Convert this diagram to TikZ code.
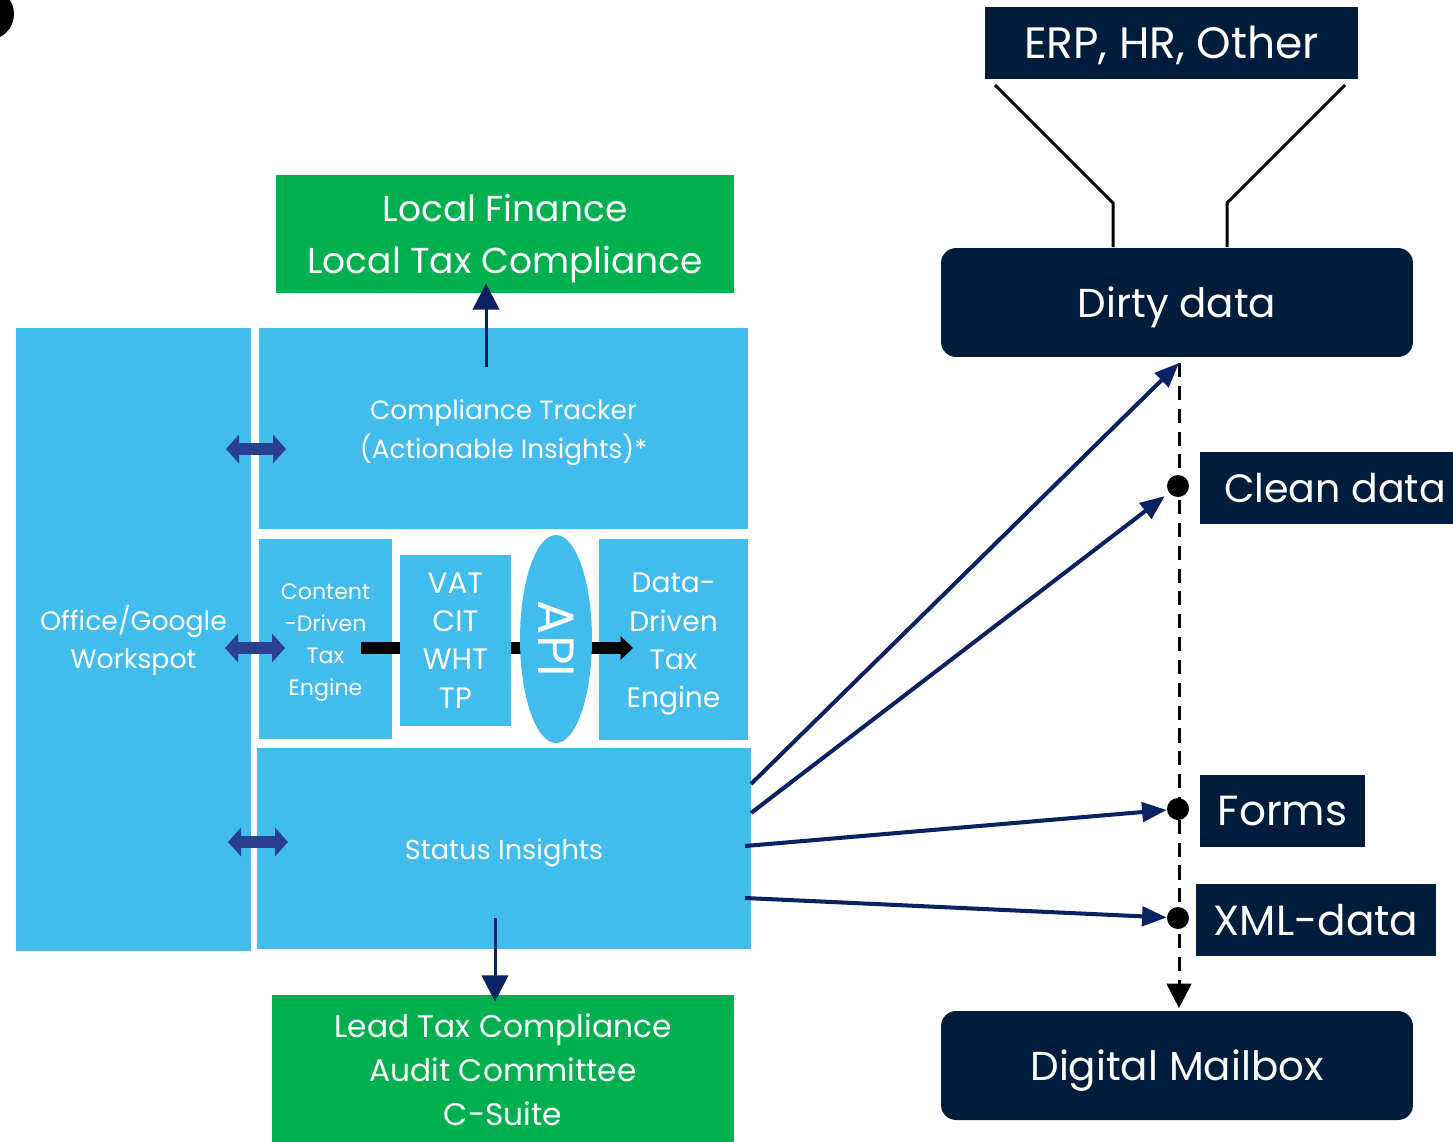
\documentclass[tikz,border=0pt]{standalone}
\usepackage{fontspec}
\setmainfont{Poppins}
\usetikzlibrary{arrows.meta,shapes.geometric}
\definecolor{cblue}{HTML}{41BCEC}
\definecolor{cgreen}{HTML}{00B050}
\definecolor{cnavy}{HTML}{021D3B}
\definecolor{carrow}{HTML}{0A2162}
\definecolor{cdbl}{HTML}{2B3F91}
\tikzset{
  box/.style={draw=none, inner sep=0pt, anchor=center},
  lbl/.style={text=white, align=center, inner sep=0pt},
  bluebox/.style={box, fill=cblue},
  greenbox/.style={box, fill=cgreen},
  navybox/.style={box, fill=cnavy},
  roundbox/.style={box, fill=cnavy, rounded corners=0.3cm},
  dot/.style={circle, fill=black, inner sep=0pt, minimum size=0.44cm},
  navyarrow/.style={draw=carrow, line width=2.3pt, -{Triangle[length=14pt,width=11pt]}},
  vertarrow/.style={draw=carrow, line width=1.7pt, -{Triangle[length=15pt,width=15pt]}},
  dblarrow/.style={draw=cdbl, line width=6.8pt, {Triangle[length=7.4pt,width=16pt]}-{Triangle[length=7.4pt,width=16pt]}},
  funnel/.style={draw=black, line width=1.7pt},
}
\begin{document}
\begin{tikzpicture}[x=0.02cm,y=-0.02cm]
\useasboundingbox (0,0) rectangle (1453,1142);
% corner mark
\fill[black] (-12,14) circle[radius=0.52cm];
% left side boxes
\node[greenbox, minimum width=9.16cm, minimum height=2.36cm,
  label={[lbl, font=\fontsize{20.5}{29.6}\selectfont, yshift=-2.3pt]center:{Local Finance\\Local Tax Compliance}}] (lf) at (505,234) {};
\node[bluebox, minimum width=4.7cm, minimum height=12.46cm,
  label={[lbl, font=\fontsize{15.2}{21.6}\selectfont, yshift=-0.6pt]center:{Office/Google\\Workspot}}] (office) at (133.5,639.5) {};
\node[bluebox, minimum width=9.78cm, minimum height=4.02cm,
  label={[lbl, font=\fontsize{15}{22}\selectfont, yshift=-2.3pt]center:{Compliance Tracker\\(Actionable Insights)*}}] (tracker) at (503.5,428.5) {};
\node[bluebox, minimum width=2.66cm, minimum height=4.0cm,
  label={[lbl, font=\fontsize{12.6}{18.2}\selectfont, yshift=-2.3pt]center:{Content\\-Driven\\Tax\\Engine}}] (content) at (325.5,639) {};
\node[bluebox, minimum width=2.98cm, minimum height=4.02cm,
  label={[lbl, font=\fontsize{16}{21.8}\selectfont, yshift=-2.8pt]center:{Data-\\Driven\\Tax\\Engine}}] (ddte) at (673.5,639.5) {};
\coordinate (bstart) at (361,648);
\coordinate (bend) at (633,648);
\draw[line width=6.8pt, -{Triangle[length=7pt,width=13pt]}] (bstart) -- (bend);
\node[bluebox, minimum width=2.22cm, minimum height=3.42cm,
  label={[lbl, font=\fontsize{16.8}{21.8}\selectfont]center:{VAT\\CIT\\WHT\\TP}}] (vat) at (455.5,640.5) {};
\node[ellipse, fill=cblue, inner sep=0pt, minimum width=1.44cm, minimum height=4.16cm] (api) at (556,639) {};
\node[text=white, rotate=-90, font=\fontsize{29}{29}\selectfont, inner sep=0pt] (apit) at (api.center) {API};
\node[bluebox, minimum width=9.88cm, minimum height=4.02cm,
  label={[lbl, font=\fontsize{15.5}{22}\selectfont, yshift=-2.3pt]center:{Status Insights}}] (status) at (504,848.5) {};
\node[greenbox, minimum width=9.24cm, minimum height=2.94cm,
  label={[lbl, font=\fontsize{17.8}{25}\selectfont, yshift=-0.9pt]center:{Lead Tax Compliance\\Audit Committee\\C-Suite}}] (lead) at (503,1068.5) {};
% vertical arrows
\coordinate (ua) at (486,367);
\draw[vertarrow] (ua) -- ([yshift=0.2cm]ua |- lf.south);
\coordinate (da) at (495,918);
\draw[vertarrow] (da) -- ([yshift=-0.14cm]da |- lead.north);
% double arrows
\coordinate (dl1) at (226,449); \coordinate (dr1) at (286,449);
\coordinate (dl2) at (225,648); \coordinate (dr2) at (285,648);
\coordinate (dl3) at (228,842); \coordinate (dr3) at (288,842);
\draw[dblarrow] (dl1) -- (dr1);
\draw[dblarrow] (dl2) -- (dr2);
\draw[dblarrow] (dl3) -- (dr3);
% right side
\node[navybox, minimum width=7.46cm, minimum height=1.44cm,
  label={[lbl, font=\fontsize{25}{25}\selectfont, yshift=-1.1pt]center:{ERP, HR, Other}}] (erp) at (1171.5,43) {};
\node[roundbox, minimum width=9.44cm, minimum height=2.18cm,
  label={[lbl, font=\fontsize{23}{23}\selectfont, yshift=-2.8pt]center:{Dirty data}}] (dirty) at (1177,302.5) {};
\node[navybox, minimum width=5.4cm, minimum height=1.44cm,
  label={[lbl, font=\fontsize{22.5}{22.5}\selectfont]center:{Clean data}}] (clean) at (1335,488) {};
\node[navybox, minimum width=3.3cm, minimum height=1.44cm,
  label={[lbl, font=\fontsize{24}{24}\selectfont]center:{Forms}}] (forms) at (1282.5,811) {};
\node[navybox, minimum width=4.8cm, minimum height=1.44cm,
  label={[lbl, font=\fontsize{24}{24}\selectfont]center:{XML-data}}] (xml) at (1316,920) {};
\node[roundbox, minimum width=9.44cm, minimum height=2.18cm,
  label={[lbl, font=\fontsize{23}{23}\selectfont, yshift=-2.8pt]center:{Digital Mailbox}}] (mail) at (1177,1065.5) {};
% funnel
\coordinate (fl0) at (995,85); \coordinate (fl1) at (1113,203); \coordinate (fl2) at (1113,247);
\coordinate (fr0) at (1345,85); \coordinate (fr1) at (1227,203); \coordinate (fr2) at (1227,247);
\draw[funnel] (fl0) -- (fl1) -- (fl2);
\draw[funnel] (fr0) -- (fr1) -- (fr2);
% dashed line and dots
\coordinate (dt) at (1179,363);
\draw[black, line width=1.7pt, dash pattern=on 8pt off 5pt, -{Triangle[length=14pt,width=14pt]}] (dt) -- ([yshift=0.05cm]dt |- mail.north);
\node[dot] (d1) at (1178,486) {};
\node[dot] (d2) at (1178,809) {};
\node[dot] (d3) at (1178,918) {};
% navy arrows
\coordinate (s1) at (751,784);
\coordinate (s2) at (751,813);
\coordinate (s3) at (745,846);
\coordinate (s4) at (745,898);
\draw[navyarrow] (s1) -- (dt);
\draw[navyarrow, shorten >=3pt] (s2) -- (d1);
\draw[navyarrow] (s3) -- (d2);
\draw[navyarrow] (s4) -- (d3);
\end{tikzpicture}
\end{document}
